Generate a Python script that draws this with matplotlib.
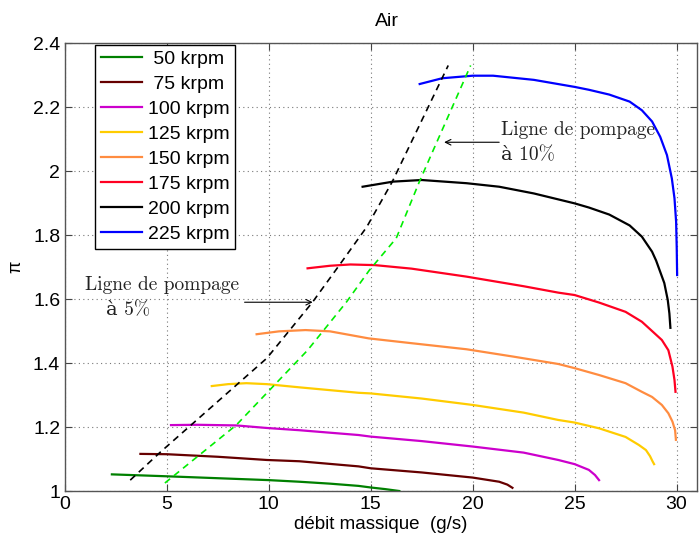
import matplotlib
matplotlib.use('Agg')
import matplotlib.pyplot as plt
from matplotlib.ticker import FixedLocator, FuncFormatter

plt.rcParams['font.family'] = ['Liberation Sans', 'DejaVu Sans']

# iso-speed curves (debit massique g/s, rapport de pression)
x50 = [2.3, 5, 7.5, 10, 11.5, 13, 14.4, 15, 15.7, 16.4]
y50 = [1.052, 1.046, 1.040, 1.034, 1.029, 1.023, 1.016, 1.011, 1.006, 1.0]

x75 = [3.7, 5, 7.5, 9.9, 11.5, 14.4, 15, 17.5, 20, 21.3, 21.7, 21.95]
y75 = [1.116, 1.115, 1.107, 1.097, 1.093, 1.077, 1.071, 1.058, 1.042, 1.029, 1.02, 1.01]

x100 = [5.2, 6.5, 8.4, 9.9, 11.5, 14.4, 15, 17.5, 20, 22.5, 24.2, 25, 25.7, 26.0, 26.2]
y100 = [1.206, 1.207, 1.205, 1.197, 1.19, 1.175, 1.17, 1.156, 1.139, 1.12, 1.097, 1.084, 1.066, 1.05, 1.034]

x125 = [7.2, 8, 8.9, 9.9, 11.5, 14.4, 15, 17.5, 20, 22.5, 24.2, 25, 26.2, 27.5, 28.15, 28.5, 28.7, 28.83, 28.9]
y125 = [1.328, 1.334, 1.337, 1.334, 1.324, 1.307, 1.305, 1.289, 1.269, 1.245, 1.222, 1.214, 1.196, 1.169, 1.144, 1.128, 1.109, 1.092, 1.084]

x150 = [9.4, 10.5, 11.8, 13, 14.9, 17, 19.7, 22, 24.2, 25, 26.2, 27.5, 28.3, 28.8, 29.28, 29.6, 29.8, 29.93, 29.97]
y150 = [1.49, 1.499, 1.503, 1.499, 1.477, 1.462, 1.443, 1.42, 1.397, 1.384, 1.3625, 1.337, 1.31, 1.294, 1.269, 1.243, 1.217, 1.19, 1.16]

x175 = [11.9, 13, 14, 15.2, 17, 19.7, 22.5, 24.2, 25, 26.2, 27.5, 28.3, 28.8, 29.28, 29.6, 29.8, 29.9, 29.95]
y175 = [1.696, 1.704, 1.708, 1.706, 1.695, 1.67, 1.64, 1.62, 1.6125, 1.589, 1.56, 1.529, 1.50, 1.472, 1.44, 1.389, 1.347, 1.31]

x200 = [14.6, 16.1, 17.5, 19.7, 21.3, 23, 25, 25.7, 26.7, 27.7, 28.3, 28.8, 29.0, 29.2, 29.4, 29.57, 29.65, 29.7]
y200 = [1.951, 1.967, 1.972, 1.962, 1.951, 1.93, 1.899, 1.886, 1.864, 1.83, 1.795, 1.748, 1.72, 1.685, 1.65, 1.597, 1.555, 1.51]

x225 = [17.4, 18.5, 20, 21, 23, 25, 25.7, 26.7, 27.7, 28.3, 28.8, 29.2, 29.53, 29.77, 29.9, 29.98, 30.01, 30.03]
y225 = [2.272, 2.29, 2.298, 2.298, 2.285, 2.263, 2.254, 2.239, 2.217, 2.19, 2.155, 2.107, 2.05, 1.977, 1.915, 1.842, 1.76, 1.675]

# lignes de pompage
x_p5 = [3.2, 4.65, 9.9, 12.14, 13.46, 14.8, 16.05, 18.8]
y_p5 = [1.034, 1.12, 1.415, 1.59, 1.706, 1.825, 1.966, 2.33]
x_p10 = [4.9, 8.4, 11.9, 13.8, 14.93, 16.25, 17.38, 17.96, 19.9]
y_p10 = [1.025, 1.206, 1.44, 1.59, 1.69, 1.79, 1.966, 2.05, 2.33]

labels = [' 50 krpm', ' 75 krpm', '100 krpm', '125 krpm', '150 krpm', '175 krpm', '200 krpm', '225 krpm']
colors = ['#008000', '#660000', '#cc00cc', '#ffcc00', '#ff8c40', '#ff0022', '#000000', '#0000ff']
curves = [(x50, y50), (x75, y75), (x100, y100), (x125, y125),
          (x150, y150), (x175, y175), (x200, y200), (x225, y225)]

xticks = [0, 5, 10, 15, 20, 25, 30]
yticks = [1, 1.2, 1.4, 1.6, 1.8, 2, 2.2, 2.4]

fig = plt.figure(figsize=(6.99, 5.41), dpi=100)
ax = fig.add_axes([0.093, 0.0924, 0.904, 0.828])

for (xs, ys), c, lab in zip(curves, colors, labels):
    ax.plot(xs, ys, color=c, lw=1.6, label=lab, solid_joinstyle='round')

ax.plot(x_p5, y_p5, color='k', lw=1.2, dashes=(4, 3))
ax.plot(x_p10, y_p10, color='#00ee00', lw=1.2, dashes=(4, 3))

ax.set_xlim(0, 31)
ax.set_ylim(1, 2.4)
ax.xaxis.set_major_locator(FixedLocator(xticks))
ax.yaxis.set_major_locator(FixedLocator(yticks))
ax.yaxis.set_major_formatter(FuncFormatter(lambda v, p: '%g' % v))
ax.tick_params(direction='in', top=True, right=True, length=5, labelsize=14, color='#444444')
ax.grid(True, color='#777777', linestyle=(0, (1, 3)), lw=0.8)
for s in ax.spines.values():
    s.set_color('#555555')
    s.set_linewidth(1)

ax.set_title('Air', fontsize=14, x=0.51, pad=12)
ax.set_xlabel('débit massique  (g/s)', fontsize=13.5, labelpad=2)
ax.set_ylabel('π', fontsize=13, labelpad=6)

serif = ['cmr10', 'DejaVu Serif']
ax.text(21.37, 2.128, 'Ligne de pompage', family=serif, fontsize=14, color='#222222', va='center')
ax.text(21.37, 2.05, 'à 10%', family=serif, fontsize=14, color='#222222', va='center')
ax.annotate('', xy=(18.6, 2.09), xytext=(21.3, 2.09),
            arrowprops=dict(arrowstyle='->', color='k', lw=0.8, shrinkA=0, shrinkB=0))

ax.text(1.0, 1.644, 'Ligne de pompage', family=serif, fontsize=14, color='#222222', va='center')
ax.text(2.0, 1.566, 'à 5%', family=serif, fontsize=14, color='#222222', va='center')
ax.annotate('', xy=(12.15, 1.59), xytext=(8.81, 1.59),
            arrowprops=dict(arrowstyle='->', color='k', lw=0.8, shrinkA=0, shrinkB=0))

leg = ax.legend(loc='upper left', bbox_to_anchor=(0.0475, 0.996), fontsize=14,
                handlelength=2.1, handletextpad=0.3, labelspacing=0.38,
                borderpad=0.3, borderaxespad=0, fancybox=False, framealpha=1)
leg.get_frame().set_edgecolor('k')
leg.get_frame().set_linewidth(1)

fig.savefig('out.png', dpi=100)
